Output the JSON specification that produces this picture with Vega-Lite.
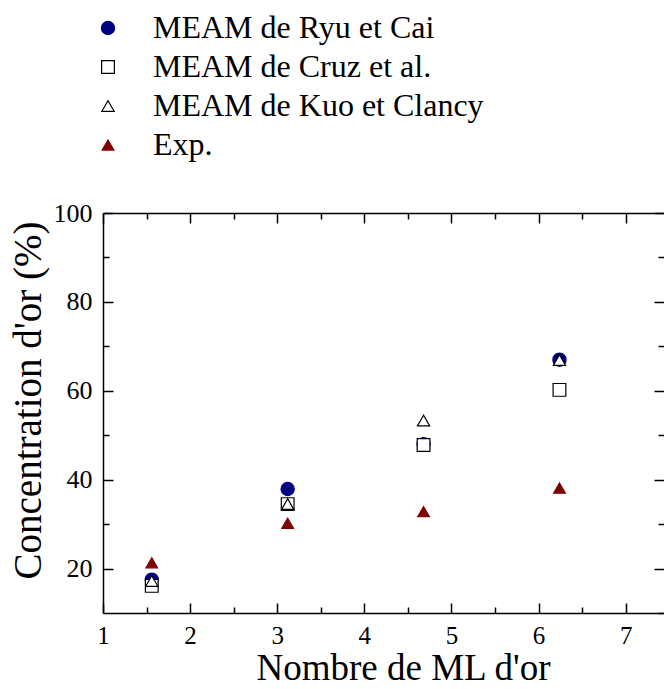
{
  "$schema": "https://vega.github.io/schema/vega-lite/v6.json",
  "width": 561,
  "height": 400,
  "autosize": {"type": "none"},
  "padding": {"left": 103, "top": 213, "right": 0, "bottom": 76},
  "background": "white",
  "config": {
    "view": {"stroke": null},
    "font": "Liberation Serif",
    "axis": {
      "labelFont": "Liberation Serif",
      "titleFont": "Liberation Serif",
      "labelFontSize": 26,
      "titleFontSize": 39,
      "titleFontWeight": "normal",
      "labelColor": "black",
      "titleColor": "black",
      "domainColor": "black",
      "tickColor": "black",
      "domainWidth": 1.5,
      "tickWidth": 1.5,
      "grid": false
    },
    "legend": {
      "labelFont": "Liberation Serif",
      "labelFontSize": 32,
      "labelColor": "black",
      "labelLimit": 0
    }
  },
  "data": {
    "values": [
      {"series": "MEAM de Ryu et Cai", "ml": 1.56, "conc": 17.5},
      {"series": "MEAM de Ryu et Cai", "ml": 3.12, "conc": 37.9},
      {"series": "MEAM de Ryu et Cai", "ml": 4.68, "conc": 48.0},
      {"series": "MEAM de Ryu et Cai", "ml": 6.24, "conc": 67.0},
      {"series": "MEAM  de Cruz et al.", "ml": 1.56, "conc": 16.1},
      {"series": "MEAM  de Cruz et al.", "ml": 3.12, "conc": 34.5},
      {"series": "MEAM  de Cruz et al.", "ml": 4.68, "conc": 47.8},
      {"series": "MEAM  de Cruz et al.", "ml": 6.24, "conc": 60.2},
      {"series": "MEAM  de Kuo et Clancy", "ml": 1.56, "conc": 17.2},
      {"series": "MEAM  de Kuo et Clancy", "ml": 3.12, "conc": 34.5},
      {"series": "MEAM  de Kuo et Clancy", "ml": 4.68, "conc": 53.3},
      {"series": "MEAM  de Kuo et Clancy", "ml": 6.24, "conc": 66.9},
      {"series": "Exp.", "ml": 1.56, "conc": 21.3},
      {"series": "Exp.", "ml": 3.12, "conc": 30.2},
      {"series": "Exp.", "ml": 4.68, "conc": 32.8},
      {"series": "Exp.", "ml": 6.24, "conc": 38.1}
    ]
  },
  "resolve": {"axis": {"x": "independent", "y": "independent"}},
  "layer": [
    {
      "mark": {"type": "point", "filled": true, "strokeWidth": 1.2, "opacity": 1},
      "encoding": {
        "x": {
          "field": "ml", "type": "quantitative",
          "scale": {"domain": [1, 7.44], "nice": false, "zero": false},
          "axis": {
            "orient": "bottom",
            "title": "Nombre de ML d'or",
            "titleFontSize": 37,
            "labelFontSize": 25,
            "values": [1, 2, 3, 4, 5, 6, 7],
            "format": "d",
            "tickSize": -10,
            "labelPadding": 20,
            "labelFlush": false,
            "titleX": 300,
            "titlePadding": 2
          }
        },
        "y": {
          "field": "conc", "type": "quantitative",
          "scale": {"domain": [10, 100], "nice": false, "zero": false},
          "axis": {
            "orient": "left",
            "title": "Concentration d'or (%)",
            "values": [20, 40, 60, 80, 100],
            "format": "d",
            "tickSize": -10,
            "labelPadding": 21,
            "labelFlush": false,
            "titleY": 187,
            "titlePadding": 5
          }
        },
        "shape": {
          "field": "series", "type": "nominal",
          "scale": {
            "domain": ["MEAM de Ryu et Cai", "MEAM  de Cruz et al.", "MEAM  de Kuo et Clancy", "Exp."],
            "range": ["circle", "square", "triangle-up", "triangle-up"]
          },
          "legend": {
            "title": null,
            "orient": "none",
            "legendX": -11,
            "legendY": -201,
            "rowPadding": 7,
            "labelOffset": 29,
            "symbolStrokeWidth": 1.2,
            "labelLimit": 0
          }
        },
        "fill": {
          "field": "series", "type": "nominal",
          "scale": {
            "domain": ["MEAM de Ryu et Cai", "MEAM  de Cruz et al.", "MEAM  de Kuo et Clancy", "Exp."],
            "range": ["#000080", "white", "white", "#800000"]
          },
          "legend": {"title": null}
        },
        "stroke": {
          "field": "series", "type": "nominal",
          "scale": {
            "domain": ["MEAM de Ryu et Cai", "MEAM  de Cruz et al.", "MEAM  de Kuo et Clancy", "Exp."],
            "range": ["#000080", "black", "black", "#800000"]
          },
          "legend": {"title": null}
        },
        "size": {
          "field": "series", "type": "nominal",
          "scale": {
            "domain": ["MEAM de Ryu et Cai", "MEAM  de Cruz et al.", "MEAM  de Kuo et Clancy", "Exp."],
            "range": [175, 137, 240, 240]
          },
          "legend": {"title": null}
        }
      }
    },
    {
      "mark": {"type": "point", "opacity": 0},
      "encoding": {
        "x": {
          "field": "ml", "type": "quantitative",
          "axis": {
            "orient": "top",
            "title": null,
            "labels": false,
            "values": [1, 1.5, 2, 2.5, 3, 3.5, 4, 4.5, 5, 5.5, 6, 6.5, 7],
            "tickSize": {"condition": {"test": "datum.value % 1 === 0", "value": -10}, "value": -6}
          }
        },
        "y": {
          "field": "conc", "type": "quantitative",
          "axis": {
            "orient": "right",
            "title": null,
            "labels": false,
            "domain": false,
            "values": [10, 20, 30, 40, 50, 60, 70, 80, 90, 100],
            "tickSize": {"condition": {"test": "datum.value % 20 === 0", "value": -10}, "value": -6}
          }
        }
      }
    },
    {
      "mark": {"type": "point", "opacity": 0},
      "encoding": {
        "x": {
          "field": "ml", "type": "quantitative",
          "axis": {
            "orient": "bottom",
            "title": null,
            "labels": false,
            "domain": false,
            "values": [1.5, 2.5, 3.5, 4.5, 5.5, 6.5],
            "tickSize": -6
          }
        },
        "y": {
          "field": "conc", "type": "quantitative",
          "axis": {
            "orient": "left",
            "title": null,
            "labels": false,
            "domain": false,
            "values": [30, 50, 70, 90],
            "tickSize": -6
          }
        }
      }
    }
  ]
}
